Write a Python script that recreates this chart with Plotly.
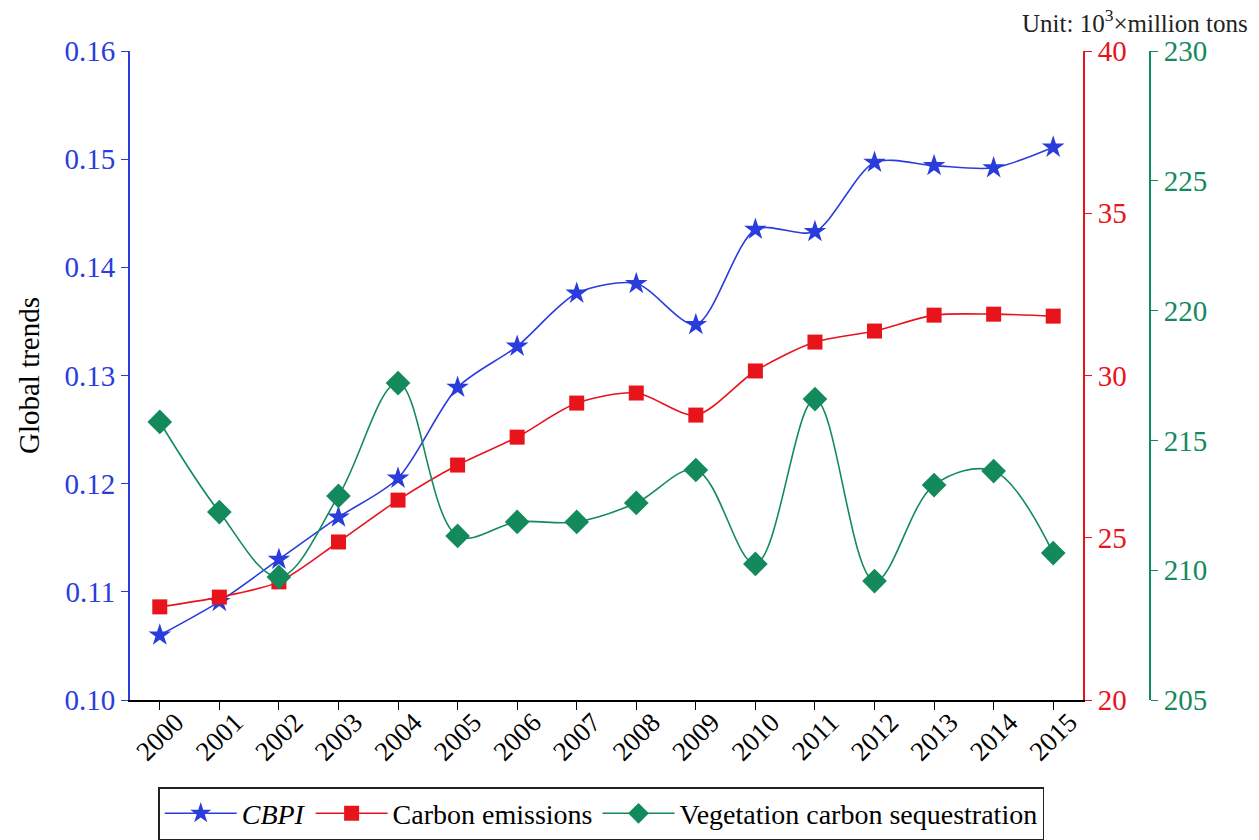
import plotly.graph_objects as go

years = list(range(2000, 2016))
year_labels = [str(y) for y in years]
cbpi = [0.1060, 0.1091, 0.1130, 0.1169, 0.1205, 0.1289, 0.1327, 0.1376,
        0.1385, 0.1347, 0.1435, 0.1433, 0.1497, 0.1494, 0.1492, 0.1511]
emissions = [22.87, 23.17, 23.64, 24.87, 26.16, 27.24, 28.10, 29.15,
             29.46, 28.78, 30.14, 31.03, 31.37, 31.86, 31.89, 31.83]
sequestration = [215.71, 212.24, 209.74, 212.86, 217.21, 211.32, 211.86, 211.86,
                 212.59, 213.86, 210.24, 216.59, 209.58, 213.28, 213.82, 210.66]

BLUE = "#2a3ddc"
RED = "#e8141c"
GREEN = "#138a5c"
FONT = "Liberation Serif"

fig = go.Figure()
fig.add_trace(go.Scatter(x=years, y=cbpi, name="<i>CBPI</i>", mode="lines+markers",
                         line=dict(color=BLUE, width=1.6, shape="spline", smoothing=0.8),
                         marker=dict(symbol="star", size=17, color=BLUE), yaxis="y"))
fig.add_trace(go.Scatter(x=years, y=emissions, name="Carbon emissions", mode="lines+markers",
                         line=dict(color=RED, width=1.6, shape="spline", smoothing=0.8),
                         marker=dict(symbol="square", size=15, color=RED), yaxis="y2"))
fig.add_trace(go.Scatter(x=years, y=sequestration, name="Vegetation carbon sequestration",
                         mode="lines+markers",
                         line=dict(color=GREEN, width=1.6, shape="spline", smoothing=1.0),
                         marker=dict(symbol="diamond", size=19, color=GREEN), yaxis="y3"))

fig.update_layout(
    width=1259, height=840,
    paper_bgcolor="white", plot_bgcolor="white",
    margin=dict(l=130, r=109, t=51, b=140, autoexpand=False),
    font=dict(family=FONT, size=28, color="black"),
    showlegend=True,
    legend=dict(orientation="h", x=0.462, xanchor="center",
                yref="container", y=0.063, yanchor="top",
                bordercolor="#222222", borderwidth=1.5, font=dict(size=28, family=FONT),
                itemwidth=72, tracegroupgap=0),
    xaxis=dict(domain=[0, 0.9343], range=[1999.5, 2015.5], tickmode="array",
               tickvals=years, ticktext=year_labels, tickangle=-45,
               showline=True, linecolor="black", linewidth=1.5, ticks="outside",
               ticklen=8, tickcolor="black", showgrid=False, zeroline=False,
               automargin=False, ticklabelshift=16, ticklabelstandoff=-14,
               tickfont=dict(size=27, family=FONT, color="black")),
    yaxis=dict(range=[0.10, 0.16], dtick=0.01, tickformat=".2f",
               showline=True, linecolor=BLUE, linewidth=2, ticks="outside",
               ticklen=7, tickcolor=BLUE, showgrid=False, zeroline=False,
               automargin=False,
               tickfont=dict(color=BLUE, size=29, family=FONT),
               title=dict(text="Global trends", font=dict(size=29, family=FONT, color="black"),
                          standoff=16)),
    yaxis2=dict(range=[20, 40], dtick=5, overlaying="y", side="right", anchor="x",
                showline=True, linecolor=RED, linewidth=2, ticks="outside",
                ticklen=7, tickcolor=RED, showgrid=False, zeroline=False,
                automargin=False,
                tickfont=dict(color=RED, size=29, family=FONT)),
    yaxis3=dict(range=[205, 230], dtick=5, overlaying="y", side="right", anchor="free",
                position=1.0, automargin=False,
                showline=True, linecolor=GREEN, linewidth=2, ticks="outside",
                ticklen=7, tickcolor=GREEN, showgrid=False, zeroline=False,
                tickfont=dict(color=GREEN, size=29, family=FONT)),
    annotations=[dict(text="Unit: 10<sup>3</sup>×million tons", xref="paper", yref="paper",
                      x=1.0, y=1.0, xanchor="right", yanchor="bottom", yshift=12,
                      xshift=100, showarrow=False,
                      font=dict(size=25, family=FONT, color="#222222"))],
)

fig.write_html("out.html", config={"displayModeBar": False})
with open("out.html", "r", encoding="utf-8") as f:
    html = f.read()
html = html.replace("<body>", '<body style="margin:0;padding:0">', 1)
with open("out.html", "w", encoding="utf-8") as f:
    f.write(html)
